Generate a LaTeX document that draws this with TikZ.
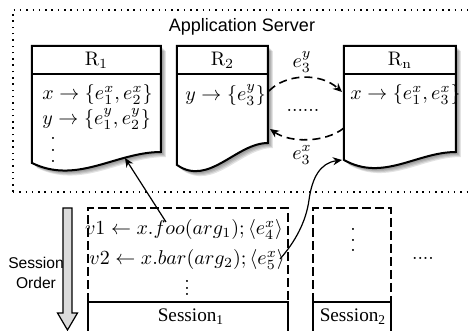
\documentclass[tikz,border=0pt]{standalone}
\usepackage{fontspec}
\newfontfamily\labelsans{Liberation Sans}
\newfontfamily\labelserif{Liberation Serif}
\usetikzlibrary{arrows.meta}

% three stacked dots with a chosen spacing
\newcommand\spacedvdots[1]{\vbox{\offinterlineskip\halign{##\cr.\cr\noalign{\kern#1}.\cr\noalign{\kern#1}.\cr}}}

% outline of a replica document: flat top at y=46, wavy bottom
\newcommand\docpath[4]{(#1,46) -- (#2,46) -- (#2,#4)
  .. controls ({#1+0.65*(#2-#1)},#4) and ({#1+0.35*(#2-#1)},{#3+22}) .. (#1,#3) -- cycle}

\tikzset{
  docline/.style={draw=black, line width=1pt, fill=white},
  serverframe/.style={line width=0.75pt, dash pattern=on 0.75pt off 2.4pt},
  sessionbox/.style={line width=0.9pt, dash pattern=on 4.5pt off 2pt},
  sessionbar/.style={line width=0.9pt},
  msgarrow/.style={line width=0.8pt, dash pattern=on 4pt off 2.5pt,
    -{Stealth[length=4.5pt,width=4pt]}},
  callarrow/.style={line width=0.6pt, -{Stealth[length=4.5pt,width=4pt]}},
  mathtext/.style={font=\fontsize{9.8}{11}\selectfont, inner sep=0pt},
  sanstext/.style={font=\labelsans\fontsize{9}{11}\selectfont, inner sep=0pt},
  ordertext/.style={font=\labelsans\fontsize{7.8}{10}\selectfont, inner sep=0pt, align=center},
  sessiontext/.style={font=\labelserif\fontsize{9.6}{11}\selectfont, inner sep=0pt},
}

\begin{document}
\begin{tikzpicture}[x=0.5pt,y=-0.5pt]
\useasboundingbox (0,0) rectangle (468,331);
\clip (0,0) rectangle (468,331);

% application server frame
\draw[serverframe] (13,192) -- (13,10) -- (480,10);
\draw[serverframe] (13,192) -- (480,192);
\node[sanstext] (title) at (242,27) {Application Server};

% replicas: soft shadow, then the document outline
\foreach \xa/\xb/\yl/\yr in {32/161/163/152, 177/268/165/143, 344/456/160/152}{
  \foreach \s in {1,2,...,5}
    \fill[black, opacity=0.11, shift={(\s,\s)}] \docpath{\xa}{\xb}{\yl}{\yr};
  \draw[docline] \docpath{\xa}{\xb}{\yl}{\yr};
  \draw[line width=1pt] (\xa,74) -- (\xb,74);
}

\node[mathtext] (h1) at (96.5,60) {$\mathrm{R}_1$};
\node[mathtext] (h2) at (222.5,60) {$\mathrm{R}_2$};
\node[mathtext] (hn) at (400,60) {$\mathrm{R_n}$};

\node[mathtext, anchor=west] (r1a) at (42,95) {$x \to \{e^x_1, e^x_2\}$};
\node[mathtext, anchor=west] (r1b) at (42,119) {$y \to \{e^y_1, e^y_2\}$};
\node[mathtext] (r1d) at (53,150) {\spacedvdots{4.6pt}};
\node[mathtext, anchor=west] (r2a) at (185,95) {$y \to \{e^y_3\}$};
\node[mathtext, anchor=west] (rna) at (350,95) {$x \to \{e^x_1, e^x_3\}$};

% propagation between replicas
\coordinate (r2out) at (269,91);
\coordinate (rnin) at (342,92);
\coordinate (rnout) at (344,128);
\coordinate (r2in) at (270,129);
\draw[msgarrow] (r2out) .. controls (285,74) and (320,72) .. (rnin);
\draw[msgarrow] (rnout) .. controls (325,143) and (290,143) .. (r2in);
\node[mathtext] (ey) at (302,62) {$e^y_3$};
\node[mathtext] (ex) at (302,155) {$e^x_3$};
\node[mathtext] (mid) at (303,110) {......};

% sessions
\draw[sessionbox] (88,302) -- (88,208) -- (288,208) -- (288,302);
\draw[sessionbar] (88,340) -- (88,302) -- (288,302) -- (288,340);
\draw[sessionbox] (313,302) -- (313,208) -- (391,208) -- (391,302);
\draw[sessionbar] (313,340) -- (313,302) -- (391,302) -- (391,340);

\node[mathtext] (s1a) at (184,230) {$v1 \leftarrow x.foo(arg_1); \langle e^x_4\rangle$};
\node[mathtext] (s1b) at (187,260) {$v2 \leftarrow x.bar(arg_2); \langle e^x_5\rangle$};
\node[mathtext] (s1d) at (187,288) {\spacedvdots{2.1pt}};
\node[mathtext] (s2d) at (353,240) {\spacedvdots{4.3pt}};
\node[mathtext] (more) at (423,258) {....};

\node[sessiontext] (ses1) at (191,317) {Session\textsubscript{1}};
\node[sessiontext] (ses2) at (353,317) {Session\textsubscript{2}};

% operations reaching replicas
\coordinate (opx) at (166,222);
\coordinate (r1hit) at (125,158);
\draw[callarrow] (opx) -- (r1hit);
\coordinate (opy) at (280,259);
\coordinate (rnhit) at (342,160);
\draw[callarrow] (opy) .. controls (295,242) and (306,222) .. (309,200)
  .. controls (312,178) and (320,163) .. (rnhit);

% session order arrow
\draw[line width=0.6pt, fill=black!14] (63,208) -- (72,208) -- (72,313) -- (77.5,313)
  -- (67.5,330) -- (57.5,313) -- (63,313) -- cycle;
\node[ordertext] (order) at (36,273) {Session\\Order};
\end{tikzpicture}
\end{document}
